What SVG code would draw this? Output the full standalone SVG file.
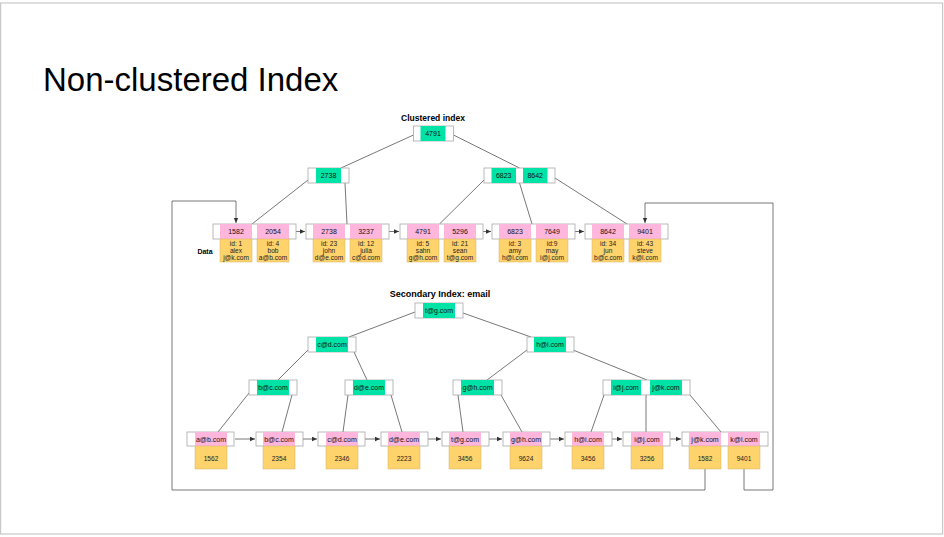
<svg xmlns="http://www.w3.org/2000/svg" width="944" height="537" viewBox="0 0 944 537">
<style>
.frame{fill:#fff;stroke:#c8c8c8;stroke-width:1.2}
.box{fill:#fff;stroke:#a8a8a8;stroke-width:0.8}
.g{fill:#00e3a6}
.p{fill:#ffb6dc}
.y{fill:#ffd36b;stroke:#d2b36a;stroke-width:0.5}
.t{font-family:"Liberation Sans",Arial,sans-serif;font-size:7px;fill:#111;text-anchor:middle}
.d{font-family:"Liberation Sans",Arial,sans-serif;font-size:6.6px;fill:#222;text-anchor:middle}
.h{font-family:"Liberation Sans",Arial,sans-serif;font-weight:bold;fill:#000;text-anchor:middle}
.ln{stroke:#555;stroke-width:0.8;fill:none}
.ar{stroke:#555;stroke-width:0.8;fill:none;marker-end:url(#ah)}
</style>
<defs>
<marker id="ah" markerWidth="6" markerHeight="6" refX="5" refY="3" orient="auto" markerUnits="userSpaceOnUse">
<path d="M0,0.8 L5,3 L0,5.2 z" fill="#333"/>
</marker>
</defs>
<rect class="frame" x="0.6" y="3" width="942" height="531"/>
<text x="43" y="91" font-family="'Liberation Sans',Arial,sans-serif" font-size="33" fill="#000">Non-clustered Index</text>

<text class="h" x="433" y="121" font-size="8.5">Clustered index</text>
<text class="h" x="205" y="254" font-size="7">Data</text>
<text class="h" x="440" y="297" font-size="9">Secondary Index: email</text>

<g id="connectors">
<line class="ln" x1="413.5" y1="135" x2="341" y2="168"/>
<line class="ln" x1="453.5" y1="135" x2="519.5" y2="168"/>
<line class="ln" x1="308" y1="180" x2="252" y2="224"/>
<line class="ln" x1="345" y1="183" x2="347" y2="224"/>
<line class="ln" x1="484" y1="180" x2="439.5" y2="224"/>
<line class="ln" x1="519.5" y1="183" x2="532" y2="224"/>
<line class="ln" x1="555" y1="178" x2="627" y2="224"/>
<line class="ar" x1="296" y1="231.5" x2="305" y2="231.5"/>
<line class="ar" x1="389" y1="231.5" x2="399" y2="231.5"/>
<line class="ar" x1="483" y1="231.5" x2="491" y2="231.5"/>
<line class="ar" x1="575" y1="231.5" x2="584" y2="231.5"/>
<polyline class="ar" points="705,469 705,490 172,490 172,201 236,201 236,223"/>
<polyline class="ar" points="744,469 744,490 773,490 773,203 645,203 645,223"/>
<line class="ln" x1="415" y1="312" x2="349" y2="337"/>
<line class="ln" x1="463" y1="313" x2="531" y2="337"/>
<line class="ln" x1="308" y1="350" x2="278" y2="380"/>
<line class="ln" x1="354" y1="352" x2="367" y2="380"/>
<line class="ln" x1="527" y1="350" x2="487" y2="380"/>
<line class="ln" x1="573" y1="350" x2="647" y2="380"/>
<line class="ln" x1="249" y1="393" x2="218" y2="432"/>
<line class="ln" x1="292" y1="395" x2="282" y2="432"/>
<line class="ln" x1="348" y1="395" x2="343" y2="432"/>
<line class="ln" x1="391" y1="395" x2="402" y2="432"/>
<line class="ln" x1="458" y1="395" x2="463" y2="432"/>
<line class="ln" x1="501" y1="395" x2="522" y2="432"/>
<line class="ln" x1="604" y1="395" x2="591" y2="432"/>
<line class="ln" x1="646" y1="395" x2="646" y2="432"/>
<line class="ln" x1="690" y1="395" x2="721" y2="432"/>
<line class="ar" x1="235" y1="439" x2="255" y2="439"/>
<line class="ar" x1="303" y1="439" x2="317" y2="439"/>
<line class="ar" x1="365" y1="439" x2="380" y2="439"/>
<line class="ar" x1="428" y1="439" x2="441" y2="439"/>
<line class="ar" x1="489" y1="439" x2="502" y2="439"/>
<line class="ar" x1="550" y1="439" x2="564" y2="439"/>
<line class="ar" x1="612" y1="439" x2="622" y2="439"/>
<line class="ar" x1="670" y1="439" x2="681" y2="439"/>
</g>

<g id="c-root">
<rect class="box" x="413.5" y="126" width="40" height="15"/>
<rect class="g" x="420.5" y="126" width="25" height="15"/>
<text class="t" x="433" y="136">4791</text>
</g>
<g id="c-n2738">
<rect class="box" x="308" y="168" width="41" height="15"/>
<rect class="g" x="316" y="168" width="25" height="15"/>
<text class="t" x="328.5" y="178">2738</text>
</g>
<g id="c-n6823">
<rect class="box" x="484" y="168" width="71" height="15"/>
<rect class="g" x="491.5" y="168" width="24.5" height="15"/>
<rect class="g" x="523" y="168" width="24.5" height="15"/>
<text class="t" x="503.7" y="178">6823</text>
<text class="t" x="535.2" y="178">8642</text>
</g>

<g id="leaf-1582">
<rect class="box" x="213" y="224" width="83" height="15"/>
<rect class="p" x="220" y="224" width="32" height="15"/>
<rect class="p" x="257" y="224" width="32" height="15"/>
<text class="t" x="236" y="234">1582</text>
<text class="t" x="273" y="234">2054</text>
<rect class="y" x="220" y="239" width="32" height="23"/>
<rect class="y" x="257" y="239" width="32" height="23"/>
<text class="d" x="236" y="246">id: 1</text><text class="d" x="236" y="253">alex</text><text class="d" x="236" y="260">j@k.com</text>
<text class="d" x="273" y="246">id: 4</text><text class="d" x="273" y="253">bob</text><text class="d" x="273" y="260">a@b.com</text>
</g>
<g id="leaf-2738">
<rect class="box" x="306" y="224" width="83" height="15"/>
<rect class="p" x="313" y="224" width="32" height="15"/>
<rect class="p" x="350" y="224" width="32" height="15"/>
<text class="t" x="329" y="234">2738</text>
<text class="t" x="366" y="234">3237</text>
<rect class="y" x="313" y="239" width="32" height="23"/>
<rect class="y" x="350" y="239" width="32" height="23"/>
<text class="d" x="329" y="246">id: 23</text><text class="d" x="329" y="253">john</text><text class="d" x="329" y="260">d@e.com</text>
<text class="d" x="366" y="246">id: 12</text><text class="d" x="366" y="253">julia</text><text class="d" x="366" y="260">c@d.com</text>
</g>
<g id="leaf-4791">
<rect class="box" x="400" y="224" width="83" height="15"/>
<rect class="p" x="407" y="224" width="32" height="15"/>
<rect class="p" x="444" y="224" width="32" height="15"/>
<text class="t" x="423" y="234">4791</text>
<text class="t" x="460" y="234">5296</text>
<rect class="y" x="407" y="239" width="32" height="23"/>
<rect class="y" x="444" y="239" width="32" height="23"/>
<text class="d" x="423" y="246">id: 5</text><text class="d" x="423" y="253">sahn</text><text class="d" x="423" y="260">g@h.com</text>
<text class="d" x="460" y="246">id: 21</text><text class="d" x="460" y="253">sean</text><text class="d" x="460" y="260">t@g.com</text>
</g>
<g id="leaf-6823">
<rect class="box" x="492" y="224" width="83" height="15"/>
<rect class="p" x="499" y="224" width="32" height="15"/>
<rect class="p" x="536" y="224" width="32" height="15"/>
<text class="t" x="515" y="234">6823</text>
<text class="t" x="552" y="234">7649</text>
<rect class="y" x="499" y="239" width="32" height="23"/>
<rect class="y" x="536" y="239" width="32" height="23"/>
<text class="d" x="515" y="246">id: 3</text><text class="d" x="515" y="253">amy</text><text class="d" x="515" y="260">h@i.com</text>
<text class="d" x="552" y="246">id:9</text><text class="d" x="552" y="253">may</text><text class="d" x="552" y="260">i@j.com</text>
</g>
<g id="leaf-8642">
<rect class="box" x="585" y="224" width="83" height="15"/>
<rect class="p" x="592" y="224" width="32" height="15"/>
<rect class="p" x="629" y="224" width="32" height="15"/>
<text class="t" x="608" y="234">8642</text>
<text class="t" x="645" y="234">9401</text>
<rect class="y" x="592" y="239" width="32" height="23"/>
<rect class="y" x="629" y="239" width="32" height="23"/>
<text class="d" x="608" y="246">id: 34</text><text class="d" x="608" y="253">jun</text><text class="d" x="608" y="260">b@c.com</text>
<text class="d" x="645" y="246">id: 43</text><text class="d" x="645" y="253">steve</text><text class="d" x="645" y="260">k@l.com</text>
</g>

<g id="s-root">
<rect class="box" x="415" y="303" width="48" height="15"/>
<rect class="g" x="423" y="303" width="32" height="15"/>
<text class="t" x="439" y="313">t@g.com</text>
</g>
<g id="s-cd">
<rect class="box" x="308" y="337" width="48" height="15"/>
<rect class="g" x="316" y="337" width="32" height="15"/>
<text class="t" x="332" y="347">c@d.com</text>
</g>
<g id="s-hi">
<rect class="box" x="527" y="337" width="47" height="15"/>
<rect class="g" x="534" y="337" width="32" height="15"/>
<text class="t" x="550" y="347">h@i.com</text>
</g>
<g id="s-bc">
<rect class="box" x="249" y="380" width="48" height="15"/>
<rect class="g" x="257" y="380" width="32" height="15"/>
<text class="t" x="273" y="390">b@c.com</text>
</g>
<g id="s-de">
<rect class="box" x="345" y="380" width="48" height="15"/>
<rect class="g" x="353" y="380" width="32" height="15"/>
<text class="t" x="369" y="390">d@e.com</text>
</g>
<g id="s-gh">
<rect class="box" x="453" y="380" width="49" height="15"/>
<rect class="g" x="461" y="380" width="33" height="15"/>
<text class="t" x="477.5" y="390">g@h.com</text>
</g>
<g id="s-ij">
<rect class="box" x="603" y="380" width="87" height="15"/>
<rect class="g" x="611" y="380" width="30" height="15"/>
<rect class="g" x="650" y="380" width="32" height="15"/>
<text class="t" x="626" y="390">i@j.com</text>
<text class="t" x="666" y="390">j@k.com</text>
</g>

<g id="s-leaf-ab">
<rect class="box" x="187" y="432" width="47" height="14"/>
<rect class="p" x="195" y="432" width="32" height="14"/>
<text class="t" x="211" y="441.5">a@b.com</text>
<rect class="y" x="195" y="446" width="32" height="23"/>
<text class="d" x="211" y="460.5">1562</text>
</g>
<g id="s-leaf-bc">
<rect class="box" x="256" y="432" width="47" height="14"/>
<rect class="p" x="263" y="432" width="32" height="14"/>
<text class="t" x="279" y="441.5">b@c.com</text>
<rect class="y" x="263" y="446" width="32" height="23"/>
<text class="d" x="279" y="460.5">2354</text>
</g>
<g id="s-leaf-cd">
<rect class="box" x="318" y="432" width="47" height="14"/>
<rect class="p" x="326" y="432" width="32" height="14"/>
<text class="t" x="342" y="441.5">c@d.com</text>
<rect class="y" x="326" y="446" width="32" height="23"/>
<text class="d" x="342" y="460.5">2346</text>
</g>
<g id="s-leaf-de">
<rect class="box" x="381" y="432" width="47" height="14"/>
<rect class="p" x="388" y="432" width="32" height="14"/>
<text class="t" x="404" y="441.5">d@e.com</text>
<rect class="y" x="388" y="446" width="32" height="23"/>
<text class="d" x="404" y="460.5">2223</text>
</g>
<g id="s-leaf-tg">
<rect class="box" x="442" y="432" width="47" height="14"/>
<rect class="p" x="449" y="432" width="32" height="14"/>
<text class="t" x="465" y="441.5">t@g.com</text>
<rect class="y" x="449" y="446" width="32" height="23"/>
<text class="d" x="465" y="460.5">3456</text>
</g>
<g id="s-leaf-gh">
<rect class="box" x="503" y="432" width="47" height="14"/>
<rect class="p" x="510" y="432" width="32" height="14"/>
<text class="t" x="526" y="441.5">g@h.com</text>
<rect class="y" x="510" y="446" width="32" height="23"/>
<text class="d" x="526" y="460.5">9624</text>
</g>
<g id="s-leaf-hi">
<rect class="box" x="565" y="432" width="47" height="14"/>
<rect class="p" x="572" y="432" width="32" height="14"/>
<text class="t" x="588" y="441.5">h@i.com</text>
<rect class="y" x="572" y="446" width="32" height="23"/>
<text class="d" x="588" y="460.5">3456</text>
</g>
<g id="s-leaf-ij">
<rect class="box" x="623" y="432" width="47" height="14"/>
<rect class="p" x="631" y="432" width="32" height="14"/>
<text class="t" x="647" y="441.5">i@j.com</text>
<rect class="y" x="631" y="446" width="32" height="23"/>
<text class="d" x="647" y="460.5">3256</text>
</g>
<g id="s-leaf-jk">
<rect class="box" x="682" y="432" width="86" height="14"/>
<rect class="p" x="689" y="432" width="32" height="14"/>
<rect class="p" x="728" y="432" width="32" height="14"/>
<text class="t" x="705" y="441.5">j@k.com</text>
<text class="t" x="744" y="441.5">k@l.com</text>
<rect class="y" x="689" y="446" width="32" height="23"/>
<rect class="y" x="728" y="446" width="32" height="23"/>
<text class="d" x="705" y="460.5">1582</text>
<text class="d" x="744" y="460.5">9401</text>
</g>
</svg>
